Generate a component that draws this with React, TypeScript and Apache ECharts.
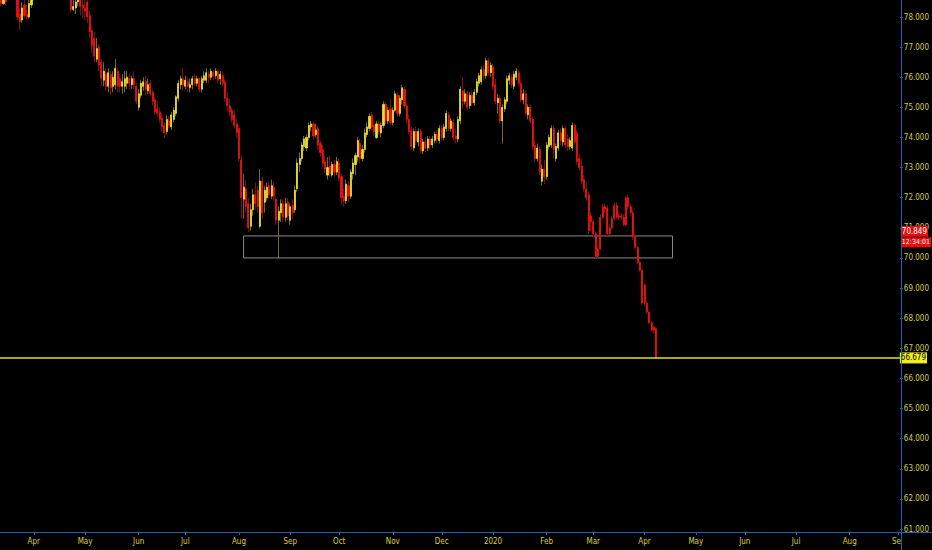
import React, { useEffect, useRef } from "react";
import * as echarts from "echarts";

// [open, close, low, high]
type Candle = [number, number, number, number];

const START_DATE = "2019-03-12";
const END_DATE = "2020-09-01";

const mar2019: Candle[] = [
  [78.7, 78.45, 78.35, 78.9], [78.45, 78.6, 78.4, 78.8], [78.6, 78.5, 78.4, 78.9], [78.8, 79.1, 78.7, 79.2],
  [79.1, 78.9, 78.75, 79.3], [78.9, 79.0, 78.7, 79.2], [79.0, 78.8, 78.65, 79.1], [78.8, 78.0, 77.9, 78.9],
  [78.1, 77.85, 77.55, 78.3], [77.9, 78.3, 77.8, 78.5], [78.4, 78.05, 77.95, 78.6], [78.1, 78.0, 77.9, 78.4],
  [78.0, 78.45, 77.95, 78.7], [78.4, 78.6, 78.3, 78.8],
];
const apr2019: Candle[] = [
  [78.6, 78.9, 78.55, 79.0], [78.9, 78.75, 78.58, 79.1], [78.75, 79.1, 78.7, 79.2], [79.1, 79.3, 79.0, 79.45],
  [79.3, 79.15, 79.0, 79.4], [79.15, 79.4, 79.05, 79.5], [79.4, 79.2, 79.1, 79.6], [79.2, 79.35, 79.1, 79.5],
  [79.35, 79.1, 79.0, 79.45], [79.1, 79.25, 78.95, 79.35], [79.25, 79.0, 78.9, 79.35], [79.0, 78.95, 78.8, 79.2],
  [78.95, 79.15, 78.85, 79.3], [79.15, 78.9, 78.75, 79.2], [78.9, 78.85, 78.7, 79.05], [78.85, 78.7, 78.6, 79.0],
  [78.7, 78.25, 78.15, 78.9], [78.25, 78.35, 78.2, 78.7], [78.3, 78.5, 78.1, 78.7], [78.5, 78.7, 78.35, 78.9],
  [78.75, 78.35, 78.05, 78.9], [78.4, 78.3, 77.95, 78.6],
];
const may2019: Candle[] = [
  [78.3, 78.2, 77.9, 78.6], [78.5, 78.0, 77.8, 78.6], [78.05, 77.5, 77.3, 78.2], [77.55, 77.05, 76.8, 77.7],
  [77.3, 76.7, 76.5, 77.5], [76.6, 76.95, 76.5, 77.3], [77.0, 76.4, 76.2, 77.1], [76.5, 75.95, 75.7, 76.6],
  [75.9, 76.2, 75.7, 76.5], [76.1, 75.7, 75.55, 76.3], [75.7, 76.15, 75.5, 76.3], [76.1, 75.65, 75.4, 76.2],
  [75.7, 76.0, 75.5, 76.2], [75.75, 76.3, 75.6, 76.6], [76.2, 75.7, 75.5, 76.3], [75.95, 75.7, 75.5, 76.1],
  [75.7, 75.85, 75.45, 76.1], [75.7, 75.95, 75.5, 76.2], [75.8, 76.0, 75.6, 76.2], [75.95, 75.8, 75.6, 76.1],
  [75.75, 75.95, 75.6, 76.05], [75.95, 75.75, 75.6, 76.2], [75.7, 75.2, 75.1, 75.8],
];
const jun2019: Candle[] = [
  [75.0, 75.45, 74.9, 75.6], [75.4, 75.8, 75.3, 75.9], [75.7, 75.85, 75.55, 76.0], [75.85, 75.6, 75.4, 76.05],
  [75.55, 75.75, 75.45, 75.95], [75.8, 75.45, 75.35, 75.9], [75.5, 75.2, 75.05, 75.6], [75.25, 74.85, 74.75, 75.35],
  [74.95, 74.8, 74.7, 75.2], [74.85, 74.6, 74.5, 75.0], [74.65, 74.35, 74.2, 74.8], [74.4, 74.15, 73.98, 74.5],
  [74.2, 74.6, 74.1, 74.75], [74.55, 74.4, 74.3, 74.7], [74.35, 74.75, 74.25, 74.85], [74.6, 74.9, 74.5, 75.0],
  [74.8, 75.35, 74.7, 75.4], [75.3, 75.8, 75.2, 75.9], [75.75, 75.95, 75.6, 76.05], [75.95, 75.75, 75.55, 76.3],
];
const jul2019: Candle[] = [
  [75.7, 75.9, 75.6, 76.05], [75.85, 75.7, 75.5, 76.0], [75.65, 75.75, 75.5, 75.95], [75.75, 75.95, 75.6, 76.05],
  [75.95, 75.8, 75.7, 76.1], [75.8, 75.95, 75.7, 76.05], [75.95, 75.6, 75.5, 76.0], [75.6, 75.95, 75.5, 76.05],
  [75.9, 76.05, 75.8, 76.2], [75.9, 76.15, 75.8, 76.3], [76.1, 76.0, 75.8, 76.2], [76.0, 76.2, 75.9, 76.3],
  [76.15, 76.05, 75.9, 76.25], [76.05, 76.2, 75.95, 76.3], [76.2, 75.9, 75.8, 76.25], [75.95, 76.1, 75.75, 76.2],
  [76.05, 75.8, 75.7, 76.2], [75.85, 75.3, 75.2, 75.95], [75.3, 75.05, 74.85, 75.5], [75.05, 74.85, 74.7, 75.3],
  [74.9, 74.6, 74.5, 75.0], [74.75, 74.4, 74.3, 74.9], [74.45, 74.15, 74.0, 74.6],
];
const aug2019: Candle[] = [
  [74.3, 73.3, 73.2, 74.4], [73.25, 72.0, 71.3, 73.4], [71.95, 72.35, 71.3, 72.8], [72.3, 71.7, 71.5, 72.6],
  [71.8, 71.0, 70.85, 72.0], [71.05, 71.6, 70.9, 71.8], [71.6, 72.1, 71.4, 72.3], [72.1, 71.8, 71.6, 72.5],
  [72.25, 71.7, 71.5, 72.4], [71.05, 72.55, 70.98, 72.95], [72.55, 71.5, 71.3, 72.7], [71.85, 72.25, 71.5, 72.4],
  [72.0, 72.35, 71.9, 72.5], [72.4, 72.1, 71.95, 72.55], [72.05, 72.4, 71.95, 72.6], [72.35, 72.05, 71.9, 72.5],
  [71.95, 71.25, 71.1, 72.05], [71.25, 71.55, 70.0, 71.7], [71.5, 71.8, 71.2, 71.95], [71.8, 71.35, 71.2, 71.95],
  [71.35, 71.8, 71.2, 72.0], [71.85, 71.4, 71.25, 72.0],
];
const sep2019: Candle[] = [
  [71.25, 71.7, 71.1, 71.8], [71.75, 71.5, 71.3, 71.95], [71.6, 72.25, 71.5, 72.4], [72.3, 73.15, 72.2, 73.3],
  [73.1, 73.3, 72.85, 73.5], [73.3, 73.75, 73.2, 73.85], [73.7, 73.95, 73.55, 74.05], [73.65, 74.0, 73.55, 74.1],
  [74.0, 74.4, 73.9, 74.5], [74.35, 74.45, 74.2, 74.55], [74.45, 74.05, 73.95, 74.5], [74.1, 74.25, 74.0, 74.45],
  [74.3, 73.75, 73.6, 74.4], [73.8, 73.5, 73.35, 73.9], [73.6, 73.15, 73.0, 73.75], [73.2, 72.95, 72.8, 73.4],
  [72.75, 73.0, 72.6, 73.35], [73.05, 72.8, 72.7, 73.4], [72.75, 73.1, 72.7, 73.2], [73.1, 72.85, 72.7, 73.25],
  [72.85, 73.2, 72.75, 73.35],
];
const oct2019: Candle[] = [
  [73.15, 72.65, 72.55, 73.3], [72.7, 72.0, 71.75, 72.8], [72.05, 71.9, 71.7, 72.3], [71.9, 72.45, 71.8, 72.6],
  [72.4, 72.05, 71.85, 72.55], [72.05, 72.85, 71.95, 72.95], [72.8, 73.15, 72.6, 73.3], [73.1, 73.4, 72.75, 73.5],
  [73.35, 73.9, 73.2, 74.0], [73.8, 73.3, 73.15, 73.95], [73.3, 73.6, 73.2, 73.75], [73.6, 74.15, 73.5, 74.3],
  [74.1, 74.35, 74.0, 74.5], [74.3, 74.7, 74.2, 74.8], [74.75, 74.35, 74.25, 74.85], [74.4, 74.2, 74.05, 74.6],
  [74.0, 74.45, 73.95, 74.55], [74.45, 74.2, 74.1, 74.6], [74.15, 74.4, 74.0, 74.5], [74.4, 75.1, 74.3, 75.2],
  [75.1, 74.55, 74.45, 75.2], [74.55, 74.9, 74.45, 75.0], [74.95, 74.5, 74.4, 75.25],
];
const nov2019: Candle[] = [
  [74.5, 74.9, 74.4, 75.0], [74.9, 75.45, 74.85, 75.55], [75.4, 74.8, 74.7, 75.5], [74.8, 75.3, 74.7, 75.4],
  [75.25, 75.65, 75.1, 75.75], [75.6, 75.05, 74.95, 75.7], [75.05, 74.6, 74.45, 75.15], [74.6, 74.2, 74.1, 74.75],
  [74.25, 73.7, 73.6, 74.35], [73.65, 74.2, 73.55, 74.3], [74.2, 73.9, 73.75, 74.35], [73.85, 74.2, 73.7, 74.3],
  [74.2, 73.55, 73.45, 74.3], [73.55, 73.85, 73.45, 73.95], [73.85, 73.65, 73.5, 74.0], [73.65, 73.95, 73.55, 74.05],
  [73.95, 73.75, 73.6, 74.05], [73.75, 73.95, 73.65, 74.05], [73.9, 74.1, 73.8, 74.2], [74.1, 73.95, 73.8, 74.25],
  [73.9, 74.3, 73.8, 74.4],
];
const dec2019: Candle[] = [
  [74.3, 74.0, 73.9, 74.45], [74.0, 74.35, 73.9, 74.45], [74.3, 74.8, 74.2, 74.9], [74.75, 74.3, 74.2, 74.85],
  [74.3, 74.55, 74.2, 74.65], [74.5, 74.0, 73.9, 74.6], [74.05, 73.95, 73.8, 74.3], [73.95, 74.6, 73.85, 74.7],
  [74.55, 75.6, 74.45, 75.7], [75.55, 75.2, 74.95, 76.0], [75.2, 75.45, 75.1, 75.6], [75.45, 75.0, 74.9, 75.55],
  [75.05, 75.4, 74.95, 75.5], [75.4, 75.15, 75.05, 75.55], [75.15, 75.5, 75.05, 75.6], [75.5, 75.85, 75.4, 75.95],
  [75.8, 76.05, 75.7, 76.15], [75.85, 76.25, 75.75, 76.35], [76.25, 76.05, 75.9, 76.4], [76.05, 76.55, 75.95, 76.65],
  [76.55, 76.15, 76.05, 76.65], [76.15, 76.4, 76.0, 76.5],
];
const jan2020: Candle[] = [
  [76.35, 75.7, 75.6, 76.45], [75.75, 75.2, 75.1, 75.95], [75.15, 75.3, 74.8, 75.45], [75.3, 74.55, 74.45, 75.4],
  [74.55, 75.0, 73.8, 75.1], [74.95, 75.25, 74.85, 75.35], [75.2, 75.95, 75.1, 76.05], [75.9, 76.05, 75.75, 76.15],
  [76.0, 75.75, 75.65, 76.1], [75.7, 76.1, 75.6, 76.2], [76.0, 76.2, 75.9, 76.3], [76.15, 75.8, 75.7, 76.25],
  [75.8, 75.25, 75.15, 75.9], [75.25, 75.45, 75.1, 75.6], [75.45, 74.8, 74.7, 75.55], [74.75, 75.0, 74.6, 75.1],
  [75.0, 74.55, 74.45, 75.1], [74.6, 73.7, 73.6, 74.7], [73.75, 73.3, 73.2, 73.9], [73.3, 73.65, 73.2, 73.8],
  [73.6, 72.85, 72.75, 73.7], [72.55, 72.95, 72.4, 73.1], [72.95, 72.7, 72.45, 73.25],
];
const feb2020: Candle[] = [
  [72.7, 73.75, 72.6, 73.85], [73.7, 74.0, 73.6, 74.1], [73.75, 74.3, 73.65, 74.4], [74.3, 73.6, 73.3, 74.4],
  [73.3, 73.7, 73.2, 73.8], [73.65, 74.15, 73.55, 74.25], [74.15, 73.9, 73.75, 74.3], [73.85, 74.3, 73.7, 74.4],
  [74.3, 73.75, 73.65, 74.4], [73.95, 73.7, 73.55, 74.1], [73.7, 73.9, 73.6, 74.0], [73.65, 74.4, 73.55, 74.5],
  [74.4, 73.85, 73.75, 74.45], [74.15, 73.2, 73.1, 74.25], [73.3, 73.0, 72.9, 73.45], [73.05, 72.55, 72.45, 73.3],
  [72.6, 72.3, 72.2, 72.75], [72.3, 72.0, 71.9, 72.5], [72.1, 70.9, 70.8, 72.2], [71.4, 71.2, 70.9, 71.5],
];
const mar2020: Candle[] = [
  [71.2, 70.8, 70.7, 71.3], [70.8, 70.05, 70.0, 70.9], [70.05, 70.3, 69.98, 70.4], [70.3, 71.35, 70.25, 71.45],
  [71.35, 71.7, 71.3, 71.8], [71.7, 71.62, 71.5, 71.8], [71.65, 70.8, 70.7, 71.75], [70.8, 71.0, 70.75, 71.1],
  [71.0, 71.3, 70.95, 71.4], [71.3, 71.75, 71.25, 71.85], [71.75, 71.35, 71.3, 71.85], [71.35, 71.4, 71.25, 71.5],
  [71.4, 71.35, 71.25, 71.5], [71.35, 71.1, 71.05, 71.45], [71.1, 72.0, 71.05, 72.05], [72.0, 71.7, 71.6, 72.1],
  [71.7, 71.5, 71.4, 71.8], [71.5, 70.7, 70.6, 71.6], [70.7, 70.35, 70.3, 70.8], [70.35, 69.85, 69.8, 70.4],
  [69.85, 69.6, 69.55, 69.9], [69.6, 68.5, 68.45, 69.65],
];
const apr2020: Candle[] = [
  [68.5, 69.1, 68.4, 69.15], [68.5, 68.2, 68.15, 68.55], [68.2, 67.85, 67.8, 68.25], [67.85, 67.6, 67.55, 67.9],
  [67.6, 67.7, 67.5, 67.75], [67.65, 66.68, 66.65, 67.7],
];

const candles: Candle[] = [
  ...mar2019, ...apr2019, ...may2019, ...jun2019, ...jul2019, ...aug2019, ...sep2019,
  ...oct2019, ...nov2019, ...dec2019, ...jan2020, ...feb2020, ...mar2020, ...apr2020,
];

// Date from which every candle is painted red
const ALL_RED_FROM = "2020-02-25";

// Support zone rectangle
const ZONE_START = "2019-08-05";
const ZONE_END = "2020-04-17";
const ZONE_LOW = 70.0;
const ZONE_HIGH = 70.73;

// Price labels
const LAST_PRICE = 66.679;
const LIVE_PRICE = 70.849;
const LIVE_COUNTDOWN = "12:34:01";

// Y axis
const Y_MIN = 61;
const Y_MAX = 78;
const Y_STEP = 1;

const MONTHS = ["Jan", "Feb", "Mar", "Apr", "May", "Jun", "Jul", "Aug", "Sep", "Oct", "Nov", "Dec"];

function weekdays(start: string, end: string): string[] {
  const out: string[] = [];
  const [ys, ms, ds] = start.split("-").map(Number);
  const [ye, me, de] = end.split("-").map(Number);
  let t = Date.UTC(ys, ms - 1, ds);
  const tEnd = Date.UTC(ye, me - 1, de);
  while (t <= tEnd) {
    const d = new Date(t);
    const wd = d.getUTCDay();
    if (wd !== 0 && wd !== 6) out.push(d.toISOString().slice(0, 10));
    t += 86400000;
  }
  return out;
}

const C_UP = "#e8de30";
const C_DOWN = "#f01010";
const C_UP_WICK = "#746c22";
const C_DOWN_WICK = "#800e0e";
const C_AXIS = "#1f64aa";
const C_LABEL = "#d8cf40";
const FONT = "'Liberation Sans Narrow', 'Arial Narrow', 'DejaVu Sans Condensed', sans-serif";

export default function App() {
  const ref = useRef<HTMLDivElement>(null);

  useEffect(() => {
    document.body.style.margin = "0";
    document.body.style.background = "#000";
    if (!ref.current) return;
    const chart = echarts.init(ref.current, null, { renderer: "svg" });

    const dates = weekdays(START_DATE, END_DATE);
    const monthStarts = new Set<number>();
    for (let i = 1; i < dates.length; i++) {
      if (dates[i].slice(5, 7) !== dates[i - 1].slice(5, 7)) monthStarts.add(i);
    }
    const isMonthStart = (i: number) => monthStarts.has(i);

    const wickData = candles.map((c, i) => {
      const red = dates[i] >= ALL_RED_FROM;
      const item: any = { value: [c[0], c[1], c[2], c[3]] };
      if (red) item.itemStyle = { color: C_DOWN_WICK, borderColor: C_DOWN_WICK, color0: C_DOWN_WICK, borderColor0: C_DOWN_WICK };
      return item;
    });
    const bodyData = candles.map((c, i) => {
      const red = dates[i] >= ALL_RED_FROM;
      const item: any = { value: [c[0], c[1], Math.min(c[0], c[1]), Math.max(c[0], c[1])] };
      if (red) item.itemStyle = { color: C_DOWN, borderColor: C_DOWN, color0: C_DOWN, borderColor0: C_DOWN };
      return item;
    });

    const priceLabel = (text: string, bg: string, fg: string, dy: number, size: number) => ({
      show: true,
      position: "end",
      distance: 1,
      offset: [0, dy],
      formatter: text,
      color: fg,
      backgroundColor: bg,
      padding: [2, 1, 1, 1],
      fontSize: size,
      fontFamily: FONT,
    });
    const hiddenLine = { color: "rgba(0,0,0,0)", width: 0 };

    const option: any = {
      animation: false,
      backgroundColor: "#000",
      grid: { left: 0, right: 31, top: 17, bottom: 21, containLabel: false },
      xAxis: {
        type: "category",
        data: dates,
        boundaryGap: true,
        offset: 3,
        axisLine: { show: false },
        axisTick: {
          show: true,
          interval: (i: number) => isMonthStart(i),
          alignWithLabel: true,
          length: 3,
          lineStyle: { color: C_AXIS },
        },
        axisLabel: {
          interval: (i: number) => isMonthStart(i),
          color: C_LABEL,
          fontSize: 8,
          fontFamily: FONT,
          margin: 5,
          formatter: (v: string) => {
            const m = Number(v.slice(5, 7));
            return m === 1 ? v.slice(0, 4) : MONTHS[m - 1];
          },
        },
        splitLine: { show: false },
      },
      yAxis: {
        type: "value",
        position: "right",
        min: Y_MIN,
        max: Y_MAX,
        interval: Y_STEP,
        axisLine: { show: false },
        axisTick: { show: true, length: 3, lineStyle: { color: C_AXIS } },
        axisLabel: {
          color: C_LABEL,
          fontSize: 8,
          fontFamily: FONT,
          margin: 4,
          formatter: (v: number) => v.toFixed(3),
        },
        splitLine: { show: false },
      },
      series: [
        {
          name: "wicks",
          type: "candlestick",
          clip: false,
          barWidth: 1,
          data: wickData,
          itemStyle: {
            color: C_UP_WICK,
            color0: C_DOWN_WICK,
            borderColor: C_UP_WICK,
            borderColor0: C_DOWN_WICK,
            borderWidth: 1,
          },
          markArea: {
            silent: true,
            itemStyle: { color: "rgba(0,0,0,0)", borderColor: "#8c8c8c", borderWidth: 1 },
            data: [[{ xAxis: ZONE_START, yAxis: ZONE_LOW }, { xAxis: ZONE_END, yAxis: ZONE_HIGH }]],
          },
        },
        {
          name: "bodies",
          type: "candlestick",
          clip: false,
          barWidth: 1.6,
          data: bodyData,
          itemStyle: {
            color: C_UP,
            color0: C_DOWN,
            borderColor: C_UP,
            borderColor0: C_DOWN,
            borderWidth: 0.8,
          },
          markLine: {
            silent: true,
            symbol: ["none", "none"],
            data: [
              {
                yAxis: LAST_PRICE,
                lineStyle: { color: "#e8e020", width: 1.5, type: "solid" },
                label: { ...priceLabel(LAST_PRICE.toFixed(3), "#f2ee1e", "#000", 0, 8), distance: 0 },
              },
              {
                yAxis: LIVE_PRICE,
                lineStyle: hiddenLine,
                label: priceLabel(LIVE_PRICE.toFixed(3), "#e30e0e", "#fff", -1, 8),
              },
              {
                yAxis: LIVE_PRICE,
                lineStyle: hiddenLine,
                label: priceLabel(LIVE_COUNTDOWN, "#e30e0e", "#fff", 10, 7),
              },
            ],
          },
        },
      ],
      graphic: [
        { type: "rect", z: 50, shape: { x: 902, y: 533, width: 30, height: 17 }, style: { fill: "#000" } },
        { type: "line", z: 60, shape: { x1: 0, y1: 532.5, x2: 932, y2: 532.5 }, style: { stroke: C_AXIS, lineWidth: 1 } },
        { type: "line", z: 60, shape: { x1: 901.5, y1: 0, x2: 901.5, y2: 550 }, style: { stroke: C_AXIS, lineWidth: 1 } },
      ],
    };

    chart.setOption(option);
    return () => chart.dispose();
  }, []);

  return <div ref={ref} style={{ width: 932, height: 550, background: "#000" }} />;
}
